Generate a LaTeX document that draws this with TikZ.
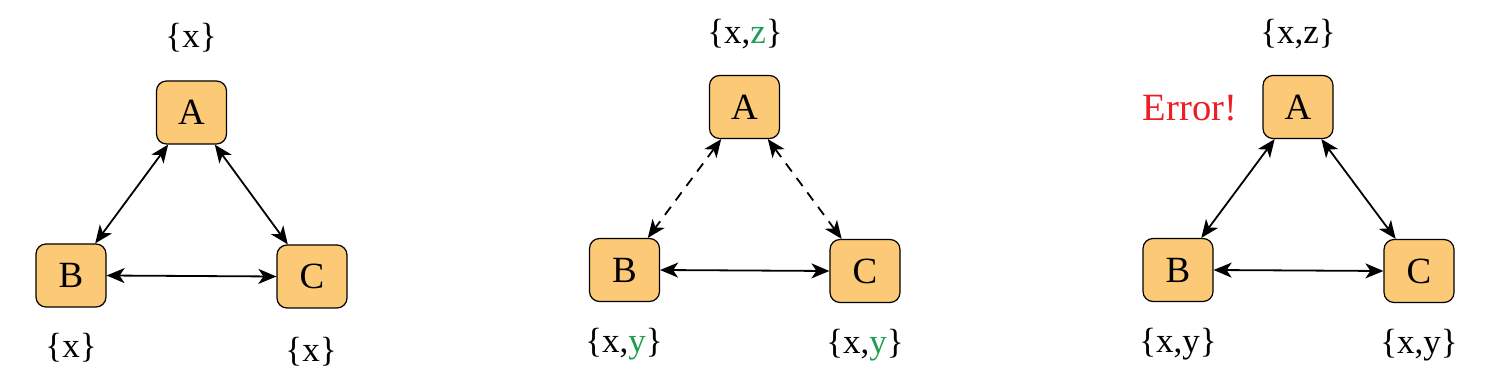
\documentclass[tikz,border=0pt]{standalone}
\usepackage{fontspec}
\setmainfont{Liberation Serif}
\usetikzlibrary{arrows.meta}
\definecolor{boxfill}{HTML}{FCC977}
\definecolor{okgreen}{HTML}{1E9E50}
\definecolor{errred}{HTML}{EE1C25}
\tikzset{
  procbox/.style={draw=black, line width=0.6pt, fill=boxfill, rounded corners=5pt,
    minimum width=35pt, minimum height=31.5pt, inner sep=0pt, font=\fontsize{18.5}{22}\selectfont},
  setlbl/.style={inner sep=0pt, font=\fontsize{17.5}{21}\selectfont},
  link/.style={line width=0.9pt, {Stealth[length=9pt,width=7.5pt,inset=2.5pt]}-{Stealth[length=9pt,width=7.5pt,inset=2.5pt]}},
  dlink/.style={link, dash pattern=on 5pt off 4pt}
}
\begin{document}
\begin{tikzpicture}[x=0.5pt,y=-0.5pt]
\useasboundingbox (0,0) rectangle (1492,389);
% triangle 1
\node[procbox] (A1) at (191.5,112.5) {A};
\node[procbox] (B1) at (71,275.5) {B};
\node[procbox] (C1) at (312,276.5) {C};
\node[setlbl] (a1) at (191,38) {\{x\}};
\node[setlbl] (b1) at (71,348) {\{x\}};
\node[setlbl] (c1) at (311,352) {\{x\}};
\draw[link] (A1.234) -- (B1.53);
\draw[link] (A1.306) -- (C1.127);
\draw[link] (B1.east) -- (C1.west);
% triangle 2
\node[procbox] (A2) at (744.5,107) {A};
\node[procbox] (B2) at (624.5,270) {B};
\node[procbox] (C2) at (865,271) {C};
\node[setlbl] (a2) at (745,34) {\{x,\textcolor{okgreen}{z}\}};
\node[setlbl] (b2) at (624,344) {\{x,\textcolor{okgreen}{y}\}};
\node[setlbl] (c2) at (865,345) {\{x,\textcolor{okgreen}{y}\}};
\draw[dlink] (A2.234) -- (B2.54);
\draw[dlink] (A2.306) -- (C2.126);
\draw[link] (B2.east) -- (C2.west);
% triangle 3
\node[procbox] (A3) at (1298,107) {A};
\node[procbox] (B3) at (1178,270) {B};
\node[procbox] (C3) at (1419,271) {C};
\node[setlbl] (a3) at (1298,34) {\{x,z\}};
\node[setlbl] (b3) at (1178,344) {\{x,y\}};
\node[setlbl] (c3) at (1419,345) {\{x,y\}};
\node[setlbl, text=errred, font=\fontsize{19.3}{23}\selectfont] (err) at (1190,108) {Error!};
\draw[link] (A3.234) -- (B3.54);
\draw[link] (A3.306) -- (C3.126);
\draw[link] (B3.east) -- (C3.west);
\end{tikzpicture}
\end{document}
